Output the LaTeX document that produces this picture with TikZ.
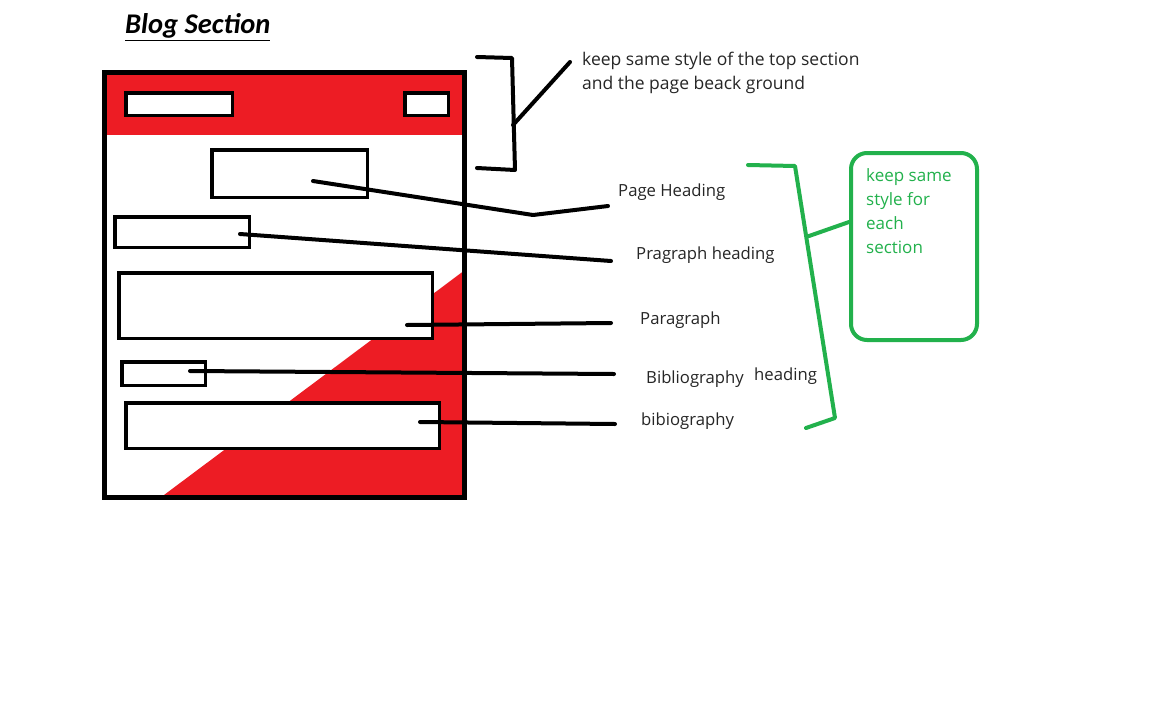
\documentclass[tikz,border=0pt]{standalone}
\usepackage{fontspec}
\setmainfont{Open Sans}
\newfontfamily\titlefont{Carlito}
\usetikzlibrary{positioning,arrows.meta}
\definecolor{PaintRed}{HTML}{ED1C24}
\definecolor{PaintGreen}{HTML}{22B14C}
\definecolor{InkGray}{HTML}{262626}
\tikzset{
  box/.style={draw,line width=3.5pt,fill=white,inner sep=0pt},
  lead/.style={line width=4pt,line cap=round,line join=round},
  label/.style={anchor=west,inner sep=0pt,text=InkGray,font=\fontsize{16.7}{20}\selectfont}
}
\begin{document}
\begin{tikzpicture}[x=1pt,y=-1pt]
  \useasboundingbox[fill=white] (0,0) rectangle (1152,702);
  \node[anchor=west,inner sep=0pt,font=\titlefont\fontsize{28.5}{32}\selectfont] (title) at (125,27) {\underline{\textbf{\textit{Blog Section}}}};
  \fill[PaintRed] (104,72) rectangle (465,135);
  \fill[PaintRed] (465,270) -- (465,498) -- (160,498) -- cycle;
  \node[box,minimum width=106.5pt,minimum height=22.5pt] (logo) at (179,104) {};
  \node[box,minimum width=43.5pt,minimum height=22.5pt] (menu) at (426.5,104) {};
  \node[box,minimum width=155.5pt,minimum height=47.5pt] (pagehead) at (289.5,173.5) {};
  \node[box,minimum width=134.5pt,minimum height=30.5pt] (parahead) at (182,232) {};
  \node[box,minimum width=313.5pt,minimum height=65.5pt] (para) at (275.5,305.5) {};
  \node[box,minimum width=83.5pt,minimum height=23.5pt] (bibhead) at (163.5,373.5) {};
  \node[box,minimum width=313.5pt,minimum height=45.5pt] (bib) at (282.5,425.5) {};
  \node[draw,line width=5pt,inner sep=0pt,minimum width=360pt,minimum height=425pt] (frame) at (284.5,285) {};

  \node[label,anchor=north west,align=left,font=\fontsize{17.5}{24}\selectfont] (topnote) at (582,52) {keep same style of the top section\\and the page beack ground};
  \node[label] (lblpagehead) at (618,192) {Page Heading};
  \node[label] (lblparahead) at (636,255) {Pragraph heading};
  \node[label] (lblpara) at (640,320) {Paragraph};
  \node[label] (lblbibhead) at (646,379) {Bibliography};
  \node[label] (lblheading) at (754,376) {heading};
  \node[label] (lblbib) at (641,421) {bibiography};
  \node[draw=PaintGreen,line width=4pt,rounded corners=16pt,minimum width=126pt,minimum height=187pt] (note) at (914,246.5) {};
  \node[anchor=north west,inner sep=0pt,align=left,text=PaintGreen,font=\fontsize{17}{24}\selectfont] (notetext) at (866,168) {keep same\\style for\\each\\section};

  \coordinate (pagehead-in) at (313,181);
  \coordinate (pagehead-bend) at (533,215);
  \coordinate (pagehead-end) at (608,206);
  \coordinate (parahead-in) at (240,234);
  \coordinate (parahead-end) at (611,261);
  \coordinate (para-in) at (407,325);
  \coordinate (para-end) at (611,323);
  \coordinate (bibhead-in) at (190,371);
  \coordinate (bibhead-end) at (614,374);
  \coordinate (bib-in) at (420,422);
  \coordinate (bib-end) at (615,424);
  \draw[lead] (pagehead-in) -- (pagehead-bend) -- (pagehead-end);
  \draw[lead] (parahead-in) -- (parahead-end);
  \draw[lead] (para-in) -- (para-end);
  \draw[lead] (bibhead-in) -- (bibhead-end);
  \draw[lead] (bib-in) -- (bib-end);

  \coordinate (topbr-a) at (477,57);
  \coordinate (topbr-b) at (512,58);
  \coordinate (topbr-c) at (515,170);
  \coordinate (topbr-d) at (477,168);
  \coordinate (topbr-mid) at (513,125);
  \coordinate (topnote-tip) at (570,62);
  \draw[lead] (topbr-a) -- (topbr-b) -- (topbr-c) -- (topbr-d);
  \draw[lead] (topbr-mid) -- (topnote-tip);

  \coordinate (secbr-a) at (748,165);
  \coordinate (secbr-b) at (795,166);
  \coordinate (secbr-c) at (835,418);
  \coordinate (secbr-d) at (806,428);
  \coordinate (secbr-mid) at (809,236);
  \draw[lead,PaintGreen] (secbr-a) -- (secbr-b) -- (secbr-c) -- (secbr-d);
  \draw[lead,PaintGreen] (secbr-mid) -- (note.west |- 0,222);
\end{tikzpicture}
\end{document}
